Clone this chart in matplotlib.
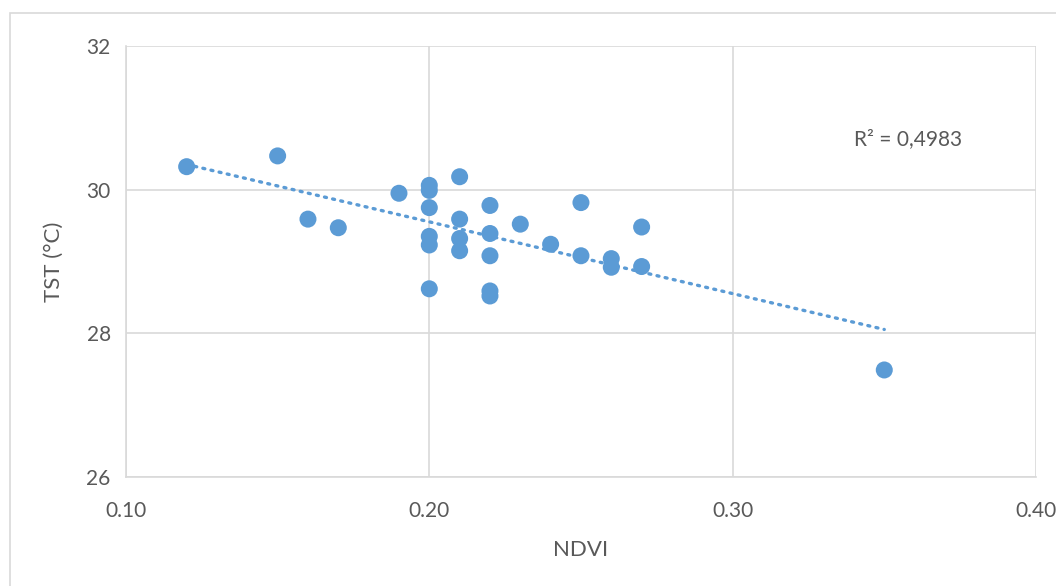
import matplotlib.pyplot as plt
import numpy as np
from matplotlib.patches import Rectangle

plt.rcParams["font.family"] = ["Lato", "DejaVu Sans"]

# NDVI vs surface temperature
ndvi = [0.12, 0.15, 0.16, 0.17, 0.19,
        0.20, 0.20, 0.20, 0.20, 0.20, 0.20,
        0.21, 0.21, 0.21, 0.21,
        0.22, 0.22, 0.22, 0.22, 0.22,
        0.23, 0.24, 0.25, 0.25, 0.26, 0.26, 0.27, 0.27, 0.35]
tst = [30.32, 30.47, 29.59, 29.47, 29.95,
       30.06, 29.99, 29.75, 29.35, 29.23, 28.62,
       30.18, 29.59, 29.32, 29.15,
       29.78, 29.39, 29.08, 28.59, 28.52,
       29.52, 29.24, 29.82, 29.08, 29.04, 28.92, 29.48, 28.93, 27.49]
r2_label = "R² = 0,4983"

x_ticks = [0.10, 0.20, 0.30, 0.40]
y_ticks = [26, 28, 30, 32]

blue = "#5B9BD5"
grid_col = "#D9D9D9"
text_col = "#595959"

fig = plt.figure(figsize=(10.56, 5.86), dpi=100)
ax = fig.add_axes([0.1193, 0.186, 0.8617, 0.7355])

# chart border like the office chart frame
fig.patches.append(Rectangle((10 / 1056, -0.05), 1.2, 1 - 13 / 586 + 0.05,
                             transform=fig.transFigure, fill=False,
                             edgecolor=grid_col, linewidth=1.2))

# linear trend line over the data range
coef = np.polyfit(ndvi, tst, 1)
xs = np.array([min(ndvi), max(ndvi)])
ax.plot(xs, np.polyval(coef, xs), color=blue, linewidth=2.4,
        linestyle=(0, (0.6, 1.9)), dash_capstyle="round", zorder=2)

ax.scatter(ndvi, tst, s=150, color=blue, edgecolors="none", zorder=3)

ax.set_xlim(0.10, 0.40)
ax.set_ylim(26, 32)
ax.set_xticks(x_ticks)
ax.set_yticks(y_ticks)
ax.set_xticklabels([f"{v:.2f}" for v in x_ticks])
ax.set_yticklabels([str(v) for v in y_ticks])
ax.grid(True, color=grid_col, linewidth=1.2)
ax.set_axisbelow(True)
for side in ["top", "right"]:
    ax.spines[side].set_visible(False)
for side in ["left", "bottom"]:
    ax.spines[side].set_color(grid_col)
    ax.spines[side].set_linewidth(1.2)
ax.tick_params(length=0, labelsize=15, colors=text_col)
ax.tick_params(axis="x", pad=17)
ax.tick_params(axis="y", pad=11)

ax.set_xlabel("NDVI", fontsize=16, color=text_col, labelpad=14)
ax.set_ylabel("TST (°C)", fontsize=16, color=text_col, labelpad=16)

ax.text(0.3577, 30.71, r2_label, fontsize=15, color=text_col, ha="center", va="center")

fig.savefig("out.png", dpi=100)
